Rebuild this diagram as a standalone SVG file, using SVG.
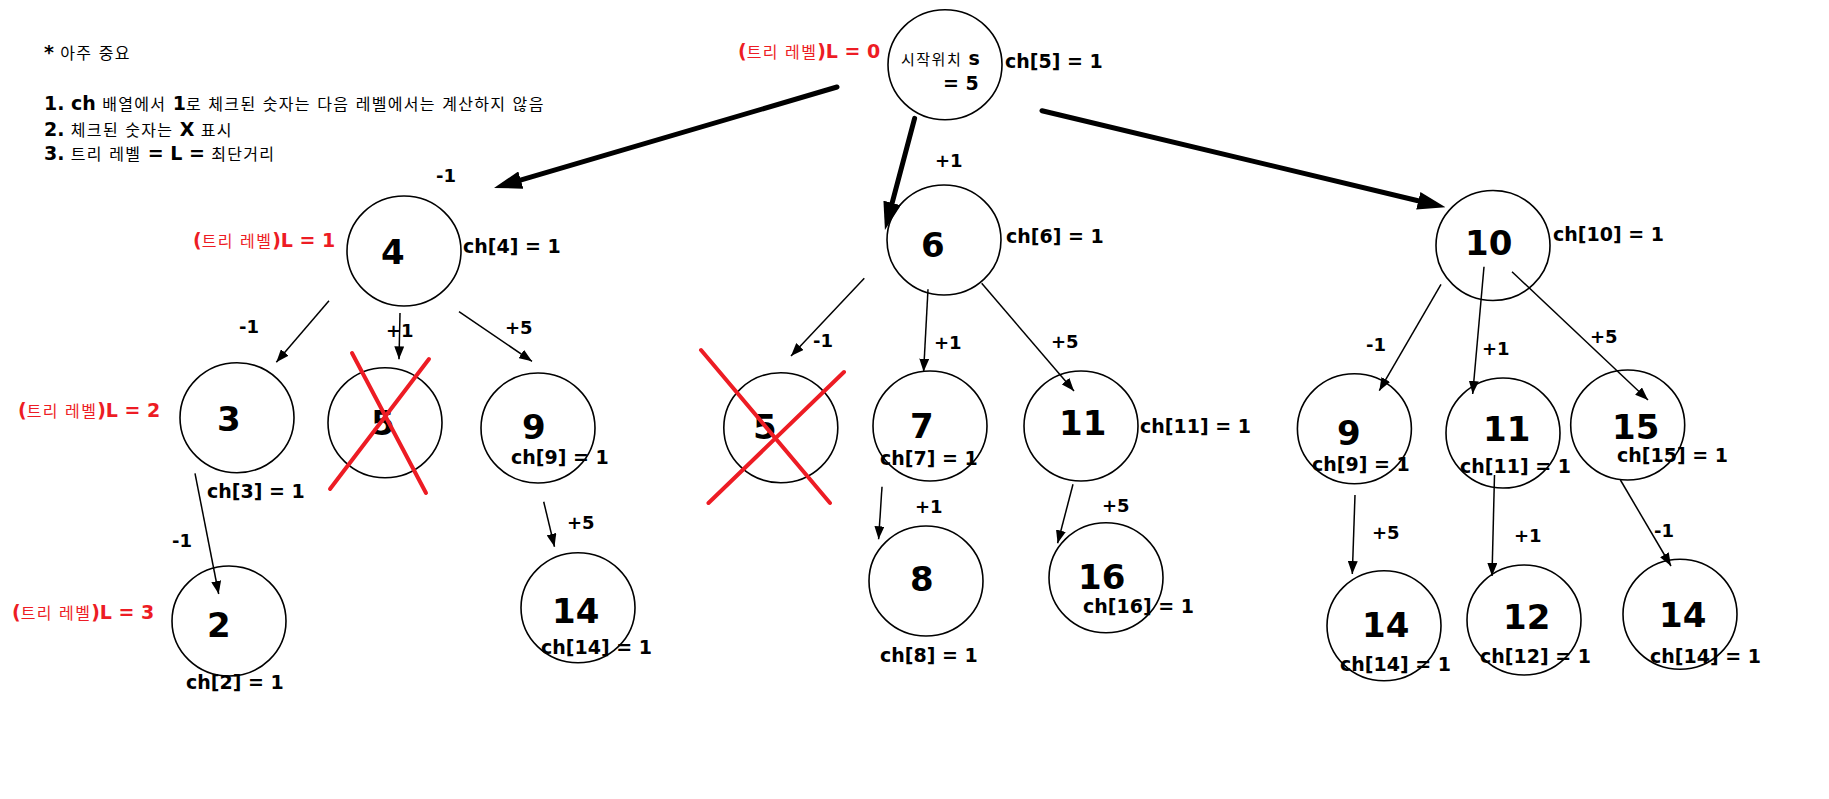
<svg xmlns="http://www.w3.org/2000/svg" width="1829" height="799" viewBox="0 0 1829 799">
<style>
text{font-family:"DejaVu Sans","Noto Sans CJK KR",sans-serif;fill:#000}
.b{font-weight:bold;font-size:19px}
.k{font-weight:normal;font-size:16px;letter-spacing:1.3px}
.big{font-weight:bold;font-size:34px}
.ch{font-weight:bold;font-size:19px}
.el{font-weight:bold;font-size:18px}
.red,.red tspan{fill:#ed1c24}
ellipse{fill:#fff;stroke:#000;stroke-width:1.6}
.thin{stroke:#000;stroke-width:1.5;fill:none;marker-end:url(#ah)}
.thick{stroke:#000;stroke-width:5;fill:none;stroke-linecap:round;marker-end:url(#ahb)}
.x{stroke:#ed1c24;stroke-width:4;stroke-linecap:round}
</style>
<defs>
<marker id="ah" viewBox="0 0 13 10" refX="13" refY="5" markerWidth="13" markerHeight="10" markerUnits="userSpaceOnUse" orient="auto"><path d="M0,0 L13,5 L0,10 z" fill="#000"/></marker>
<marker id="ahb" viewBox="0 0 28 18" refX="4" refY="9" markerWidth="28" markerHeight="18" markerUnits="userSpaceOnUse" orient="auto"><path d="M0,0 L28,9 L0,18 z" fill="#000"/></marker>
</defs>
<rect width="1829" height="799" fill="#fff"/>

<g id="notes">
<text x="44" y="59"><tspan class="b">*</tspan><tspan class="k"> 아주 중요</tspan></text>
<text x="44" y="110"><tspan class="b">1. ch</tspan><tspan class="k"> 배열에서 </tspan><tspan class="b">1</tspan><tspan class="k">로 체크된 숫자는 다음 레벨에서는 계산하지 않음</tspan></text>
<text x="44" y="136"><tspan class="b">2.</tspan><tspan class="k"> 체크된 숫자는 </tspan><tspan class="b">X</tspan><tspan class="k"> 표시</tspan></text>
<text x="44" y="160"><tspan class="b">3.</tspan><tspan class="k"> 트리 레벨 </tspan><tspan class="b">= L =</tspan><tspan class="k"> 최단거리</tspan></text>
</g>

<g id="levels">
<text class="red" x="738" y="58"><tspan class="b">(</tspan><tspan class="k">트리 레벨</tspan><tspan class="b">)L = 0</tspan></text>
<text class="red" x="193" y="247"><tspan class="b">(</tspan><tspan class="k">트리 레벨</tspan><tspan class="b">)L = 1</tspan></text>
<text class="red" x="18" y="417"><tspan class="b">(</tspan><tspan class="k">트리 레벨</tspan><tspan class="b">)L = 2</tspan></text>
<text class="red" x="12" y="619"><tspan class="b">(</tspan><tspan class="k">트리 레벨</tspan><tspan class="b">)L = 3</tspan></text>
</g>

<g id="n-start"><ellipse cx="945" cy="64.7" rx="57" ry="55"/>
<text x="901" y="65"><tspan class="k" style="font-size:15px;letter-spacing:1.5px">시작위치 </tspan><tspan class="b">s</tspan></text>
<text class="b" x="943" y="90">= 5</text>
<text class="ch" x="1005" y="68">ch[5] = 1</text></g>

<g id="n4"><ellipse cx="404" cy="251" rx="57" ry="55"/><text class="big" x="381" y="264">4</text><text class="ch" x="463" y="253">ch[4] = 1</text></g>
<g id="n6"><ellipse cx="944" cy="240" rx="57" ry="55"/><text class="big" x="921" y="257">6</text><text class="ch" x="1006" y="243">ch[6] = 1</text></g>
<g id="n10"><ellipse cx="1493" cy="245.5" rx="57" ry="55"/><text class="big" x="1465" y="255">10</text><text class="ch" x="1553" y="241">ch[10] = 1</text></g>

<g id="n3"><ellipse cx="237" cy="417.7" rx="57" ry="55"/><text class="big" x="217" y="431">3</text><text class="ch" x="207" y="498">ch[3] = 1</text></g>
<g id="n5a"><ellipse cx="385" cy="422.7" rx="57" ry="55"/><text class="big" x="371" y="435">5</text>
<line class="x" x1="352" y1="353" x2="426" y2="493"/><line class="x" x1="429" y1="359" x2="330" y2="489"/></g>
<g id="n9a"><ellipse cx="538" cy="428" rx="57" ry="55"/><text class="big" x="522" y="439">9</text><text class="ch" x="511" y="464">ch[9] = 1</text></g>
<g id="n2"><ellipse cx="229" cy="621" rx="57" ry="55"/><text class="big" x="207" y="637">2</text><text class="ch" x="186" y="689">ch[2] = 1</text></g>
<g id="n14a"><ellipse cx="578" cy="607.7" rx="57" ry="55"/><text class="big" x="552" y="623">14</text><text class="ch" x="541" y="654">ch[14] = 1</text></g>

<g id="n5b"><ellipse cx="780.8" cy="427.7" rx="57" ry="55"/><text class="big" x="753" y="439">5</text>
<line class="x" x1="701" y1="350" x2="830" y2="503"/><line class="x" x1="844" y1="372" x2="708.5" y2="503"/></g>
<g id="n7"><ellipse cx="930" cy="426" rx="57" ry="55"/><text class="big" x="910" y="438">7</text><text class="ch" x="880" y="465">ch[7] = 1</text></g>
<g id="n11a"><ellipse cx="1081" cy="426" rx="57" ry="55"/><text class="big" x="1059" y="435">11</text><text class="ch" x="1140" y="433">ch[11] = 1</text></g>
<g id="n8"><ellipse cx="926" cy="581" rx="57" ry="55"/><text class="big" x="910" y="591">8</text><text class="ch" x="880" y="662">ch[8] = 1</text></g>
<g id="n16"><ellipse cx="1106" cy="577.7" rx="57" ry="55"/><text class="big" x="1078" y="589">16</text><text class="ch" x="1083" y="613">ch[16] = 1</text></g>

<g id="n9b"><ellipse cx="1354.4" cy="428.7" rx="57" ry="55"/><text class="big" x="1337" y="445">9</text><text class="ch" x="1312" y="471">ch[9] = 1</text></g>
<g id="n11b"><ellipse cx="1503" cy="433" rx="57" ry="55"/><text class="big" x="1483" y="441">11</text><text class="ch" x="1460" y="473">ch[11] = 1</text></g>
<g id="n15"><ellipse cx="1627.7" cy="425" rx="57" ry="55"/><text class="big" x="1612" y="439">15</text><text class="ch" x="1617" y="462">ch[15] = 1</text></g>
<g id="n14b"><ellipse cx="1384" cy="625.7" rx="57" ry="55"/><text class="big" x="1362" y="637">14</text><text class="ch" x="1340" y="671">ch[14] = 1</text></g>
<g id="n12"><ellipse cx="1524" cy="620" rx="57" ry="55"/><text class="big" x="1503" y="629">12</text><text class="ch" x="1480" y="663">ch[12] = 1</text></g>
<g id="n14c"><ellipse cx="1680" cy="614.3" rx="57" ry="55"/><text class="big" x="1659" y="627">14</text><text class="ch" x="1650" y="663">ch[14] = 1</text></g>

<g id="connectors">
<line class="thick" x1="837" y1="87" x2="517" y2="181.2"/>
<line class="thick" x1="914.6" y1="118.3" x2="891.1" y2="206.8"/>
<line class="thick" x1="1042" y1="110.7" x2="1422.2" y2="201.7"/>
<line class="thin" x1="329" y1="300.7" x2="276.3" y2="362.3"/>
<line class="thin" x1="400" y1="313" x2="399" y2="359.3"/>
<line class="thin" x1="459" y1="311.7" x2="532" y2="361.3"/>
<line class="thin" x1="195" y1="473.3" x2="218.7" y2="594"/>
<line class="thin" x1="543.7" y1="501.7" x2="554.5" y2="546.7"/>
<line class="thin" x1="864.3" y1="278.3" x2="791" y2="356"/>
<line class="thin" x1="928" y1="289.3" x2="923.6" y2="371.7"/>
<line class="thin" x1="981.7" y1="283.3" x2="1074" y2="391"/>
<line class="thin" x1="882" y1="486.7" x2="878.6" y2="539.3"/>
<line class="thin" x1="1073" y1="484.3" x2="1057.6" y2="543.3"/>
<line class="thin" x1="1441" y1="284.3" x2="1379.3" y2="390.7"/>
<line class="thin" x1="1484" y1="266.7" x2="1472.7" y2="394"/>
<line class="thin" x1="1512" y1="271.7" x2="1648" y2="400"/>
<line class="thin" x1="1355" y1="495" x2="1352.3" y2="574"/>
<line class="thin" x1="1494.5" y1="475" x2="1492" y2="576"/>
<line class="thin" x1="1620.4" y1="480" x2="1671" y2="566"/>
<text class="el" x="436" y="182">-1</text>
<text class="el" x="935" y="167">+1</text>
<text class="el" x="239" y="333">-1</text>
<text class="el" x="386" y="337">+1</text>
<text class="el" x="505" y="334">+5</text>
<text class="el" x="172" y="547">-1</text>
<text class="el" x="567" y="529">+5</text>
<text class="el" x="813" y="347">-1</text>
<text class="el" x="934" y="349">+1</text>
<text class="el" x="1051" y="348">+5</text>
<text class="el" x="915" y="513">+1</text>
<text class="el" x="1102" y="512">+5</text>
<text class="el" x="1366" y="351">-1</text>
<text class="el" x="1482" y="355">+1</text>
<text class="el" x="1590" y="343">+5</text>
<text class="el" x="1372" y="539">+5</text>
<text class="el" x="1514" y="542">+1</text>
<text class="el" x="1654" y="537">-1</text>
</g>
</svg>
